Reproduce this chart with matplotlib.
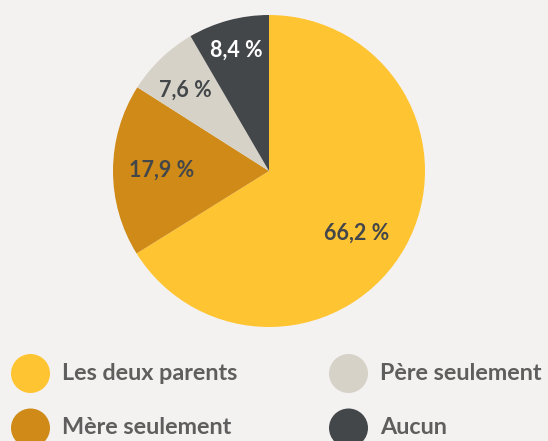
import matplotlib
matplotlib.use("Agg")
import matplotlib.pyplot as plt
import numpy as np

categories = ["Les deux parents", "Mère seulement", "Père seulement", "Aucun"]
values = [66.2, 17.9, 7.6, 8.4]
labels = ["66,2 %", "17,9 %", "7,6 %", "8,4 %"]
colors = ["#FFC432", "#CF8A17", "#D6D2C8", "#43474A"]
label_colors = ["#43474A", "#43474A", "#43474A", "#FFFFFF"]
label_radius = [0.686, 0.69, 0.745, 0.80]
label_angle_shift = [-6.3, 0.0, 1.9, 0.2]

W, H = 548, 441
fig = plt.figure(figsize=(W / 100, H / 100), dpi=100)
bg = "#F4F2F1"
fig.patch.set_facecolor(bg)

cx, cy, r = 269, 171, 156
ax = fig.add_axes([(cx - r) / W, (H - cy - r) / H, 2 * r / W, 2 * r / H])
ax.set_facecolor(bg)
wedges, _ = ax.pie(values, colors=colors, startangle=90, counterclock=False,
                   radius=1.0, wedgeprops=dict(linewidth=0))
ax.set_xlim(-1, 1)
ax.set_ylim(-1, 1)
ax.set_aspect("equal")
ax.axis("off")

for w, lab, col, rf, sh in zip(wedges, labels, label_colors, label_radius, label_angle_shift):
    ang = np.deg2rad((w.theta1 + w.theta2) / 2 + sh)
    ax.text(rf * np.cos(ang), rf * np.sin(ang), lab, ha="center", va="center",
            fontsize=15.5, fontweight="bold", family="Lato", color=col)

# legend overlay
lax = fig.add_axes([0, 0, 1, 1])
lax.set_xlim(0, W)
lax.set_ylim(H, 0)
lax.axis("off")
col_x = [30.5, 348.5]
row_y = [373.5, 428]
for i, (cat, c) in enumerate(zip(categories, colors)):
    col = 0 if i in (0, 1) else 1
    row = i % 2
    x, y = col_x[col], row_y[row]
    lax.scatter([x], [y], s=(39 * 0.72) ** 2, color=c, edgecolors="none", clip_on=False)
    lax.text(x + 32, y, cat, ha="left", va="center", fontsize=16.8, fontweight="bold",
             family="Lato", color="#5E5E5E")

fig.savefig("out.png", dpi=100, facecolor=bg)
